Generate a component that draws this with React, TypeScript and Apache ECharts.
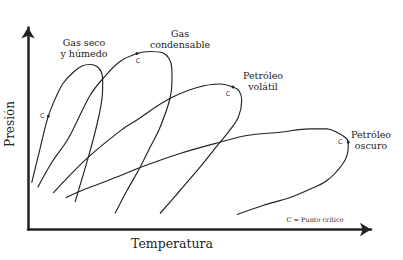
import React, { useEffect, useRef } from "react";
import * as echarts from "echarts";

// Phase envelopes (temperature, pressure) in arbitrary units
const gasSecoHumedo: [number, number][] = [
  [3.7, 46.7], [12, 80.7], [20.3, 113.3], [28.7, 134], [35, 146], [45, 157],
  [54, 163.5], [62, 165], [69, 163], [73.5, 157], [74.7, 149], [74.3, 134],
  [68.7, 104], [60.3, 72.3], [47, 27.3],
];
const gasCondensable: [number, number][] = [
  [9.7, 42], [23.7, 67], [40.3, 91], [62, 134], [75, 151], [92, 168],
  [109, 176], [122, 178], [135, 176.5], [141, 171], [143.7, 162], [144, 149],
  [142, 131], [132, 102], [122, 82], [112, 62], [99, 39], [87, 16],
];
const petroleoVolatil: [number, number][] = [
  [25.3, 36.7], [60.3, 72.3], [97, 102.3], [105, 107], [140, 130], [169, 142],
  [192, 145.5], [205, 142.5], [211.3, 138.3], [213.7, 129], [210.3, 112.3],
  [200.3, 97.3], [192, 87.3], [172, 62.3], [152, 39], [132, 16],
];
const petroleoOscuro: [number, number][] = [
  [37.7, 31.7], [49.7, 37.3], [72, 46], [97, 55.7], [112, 62], [152, 76],
  [192, 87.3], [218.7, 94], [252, 97.3], [282, 100.7], [298.7, 100.7],
  [308.7, 97.3], [317, 92.3], [320.3, 87.3], [320, 79], [315, 66], [299, 49],
  [279, 39], [262, 32], [235, 24], [209, 15],
];
// Critical points
const criticalPoints: [number, number][] = [
  [20.3, 113.3], [109, 176], [205, 142.5], [320.3, 87.3],
];
const criticalLabel = "C";
const curveNames = [
  ["Gas seco", "y húmedo"],
  ["Gas", "condensable"],
  ["Petróleo", "volátil"],
  ["Petróleo", "oscuro"],
];
const xTitle = "Temperatura";
const yTitle = "Presión";
const legendNote = "C = Punto crítico";

const SERIF = "'DejaVu Serif', serif";
const INK = "#222";

export default function App() {
  const ref = useRef<HTMLDivElement>(null);
  useEffect(() => {
    if (!ref.current) return;
    const chart = echarts.init(ref.current, null, { renderer: "svg" });
    const curves = [gasSecoHumedo, gasCondensable, petroleoVolatil, petroleoOscuro];
    const labelOffsets: [number, number][] = [[-6, 0], [1, 7], [-5, 7], [-8, 0]];
    const namePos: [number, number][] = [[84, 42], [180, 33], [263, 75], [371, 134]];
    const texts: any[] = [];
    curveNames.forEach((lines, i) => {
      lines.forEach((t, j) => {
        texts.push({
          type: "text",
          x: namePos[i][0],
          y: namePos[i][1] + j * 11.5,
          style: {
            text: t,
            font: `9.5px ${SERIF}`,
            fill: INK,
            align: "center",
            verticalAlign: "middle",
          },
        });
      });
    });
    texts.push({
      type: "text", x: 172, y: 243,
      style: { text: xTitle, font: `12.5px ${SERIF}`, fill: INK, align: "center", verticalAlign: "middle" },
    });
    texts.push({
      type: "text", x: 10, y: 124, rotation: Math.PI / 2,
      style: { text: yTitle, font: `12px ${SERIF}`, fill: INK, align: "center", verticalAlign: "middle" },
    });
    texts.push({
      type: "text", x: 315, y: 220,
      style: { text: legendNote, font: `6.5px ${SERIF}`, fill: INK, align: "center", verticalAlign: "middle" },
    });

    const axisCommon = {
      type: "value" as const,
      min: 0,
      axisLine: {
        show: true,
        symbol: ["none", "arrow"],
        symbolSize: [10, 11],
        lineStyle: { color: INK, width: 2.5 },
      },
      axisTick: { show: false },
      axisLabel: { show: false },
      splitLine: { show: false },
    };
    chart.setOption({
      animation: false,
      grid: { left: 28, top: 27.5, width: 343, height: 202 },
      xAxis: { ...axisCommon, max: 343 },
      yAxis: { ...axisCommon, max: 202 },
      graphic: texts,
      series: [
        ...curves.map((d) => ({
          type: "line",
          data: d,
          smooth: 0.35,
          symbol: "none",
          clip: false,
          lineStyle: { color: INK, width: 1.15 },
        })),
        {
          type: "scatter",
          symbolSize: 3,
          itemStyle: { color: "#000" },
          data: criticalPoints.map((p, i) => ({
            value: p,
            label: {
              show: true,
              formatter: criticalLabel,
              position: "inside",
              offset: labelOffsets[i],
              fontSize: 6.5,
              fontFamily: "'DejaVu Sans', sans-serif",
              color: "#000",
              textBorderWidth: 0,
              textBorderColor: "transparent",
            },
          })),
        },
      ],
    });
    return () => chart.dispose();
  }, []);
  return (
    <div
      ref={ref}
      style={{ position: "fixed", left: 0, top: 0, width: 403, height: 260, background: "#fff" }}
    />
  );
}
